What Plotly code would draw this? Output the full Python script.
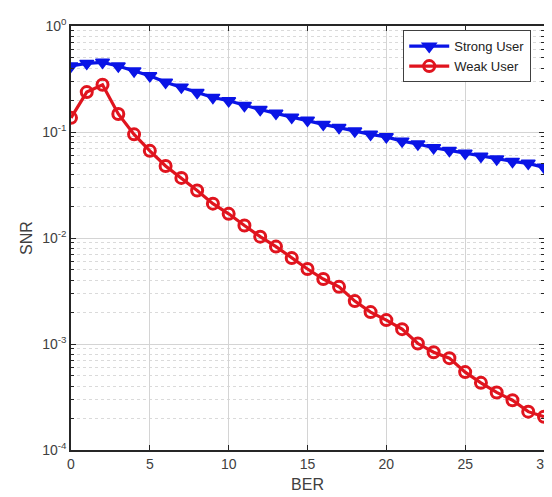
import plotly.graph_objects as go

ber = list(range(0, 31))
strong_user = [0.42, 0.444, 0.454, 0.42, 0.377, 0.339, 0.295, 0.265, 0.236, 0.212,
               0.197, 0.178, 0.163, 0.150, 0.138, 0.129, 0.118, 0.110, 0.102, 0.095,
               0.090, 0.082, 0.077, 0.071, 0.067, 0.063, 0.059, 0.0556, 0.0528, 0.0506,
               0.0464]
weak_user = [0.136, 0.238, 0.279, 0.148, 0.095, 0.0664, 0.0478, 0.0369, 0.0281, 0.0211,
             0.0169, 0.0131, 0.0103, 0.0083, 0.00646, 0.0051, 0.0041, 0.00346, 0.00254, 0.0020,
             0.00168, 0.00138, 0.00101, 0.000836, 0.000735, 0.000543, 0.00043, 0.000349, 0.000295, 0.00023,
             0.000206]

x_ticks = [0, 5, 10, 15, 20, 25, 30]
y_tickvals = [1e-4, 1e-3, 1e-2, 1e-1, 1]
y_ticktext = ["10<sup>-4</sup>", "10<sup>-3</sup>", "10<sup>-2</sup>", "10<sup>-1</sup>", "10<sup>0</sup>"]
y_minorvals = [m * d for d in [1e-4, 1e-3, 1e-2, 1e-1] for m in range(2, 10)]

fig = go.Figure()
fig.add_trace(go.Scatter(
    x=ber, y=strong_user, mode="lines+markers", name="Strong User",
    line=dict(color="#0a14e6", width=3.2),
    marker=dict(symbol="triangle-down", size=12, color="#0a14e6",
                line=dict(color="#0a14e6", width=1.5)),
))
fig.add_trace(go.Scatter(
    x=ber, y=weak_user, mode="lines+markers", name="Weak User",
    line=dict(color="#e0141e", width=3.2),
    marker=dict(symbol="circle-open", size=11, color="#e0141e",
                line=dict(color="#e0141e", width=3)),
))

axis_font = dict(family="Liberation Sans, Arial, sans-serif", size=14, color="#404040")

fig.update_layout(
    width=552, height=497,
    margin=dict(l=63, r=8, t=14, b=55),
    paper_bgcolor="white", plot_bgcolor="white",
    font=dict(family="Liberation Sans, Arial, sans-serif", color="#333333"),
    showlegend=True,
    legend=dict(
        x=0.973, y=0.99, xanchor="right", yanchor="top",
        bgcolor="white", bordercolor="#404040", borderwidth=1,
        font=dict(size=13, color="#222222"),
        tracegroupgap=0, itemwidth=40,
    ),
    xaxis=dict(
        range=[0, 30], tickvals=x_ticks, ticks="inside", ticklen=5,
        tickcolor="#262626", showline=True, linecolor="#262626", linewidth=1.5,
        mirror="allticks", showgrid=True, gridcolor="#d4d4d4", gridwidth=1,
        zeroline=False, tickfont=axis_font,
        title=dict(text="BER", font=dict(size=16, color="#404040"), standoff=8),
    ),
    yaxis=dict(
        type="log", range=[-4, 0], tickmode="array", tickvals=y_tickvals, ticktext=y_ticktext,
        ticks="inside", ticklen=5, tickcolor="#262626",
        showline=True, linecolor="#262626", linewidth=1.5, mirror="allticks",
        showgrid=True, gridcolor="#d4d4d4", gridwidth=1, zeroline=False,
        tickfont=axis_font,
        minor=dict(tickmode="array", tickvals=y_minorvals, ticks="inside", ticklen=3,
                   tickcolor="#262626", showgrid=True, gridcolor="#dadada",
                   griddash="dot", gridwidth=1),
        title=dict(text="SNR", font=dict(size=16, color="#404040"), standoff=6),
    ),
)

fig.write_html("out.html")
